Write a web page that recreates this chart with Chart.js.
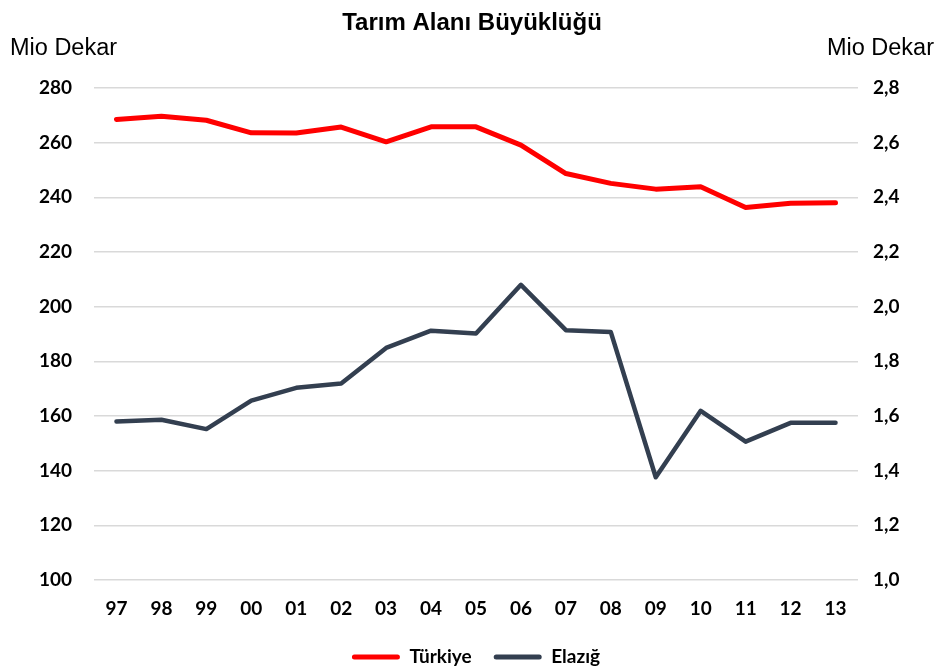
<!DOCTYPE html>
<html>
<head>
<meta charset="utf-8">
<script src="https://cdn.jsdelivr.net/npm/chart.js@4"></script>
<style>
  html, body { margin: 0; padding: 0; background: #fff; }
  #wrap { width: 939px; height: 670px; }
</style>
</head>
<body>
<div id="wrap"><canvas id="chart" width="939" height="670"></canvas></div>
<script>
const years = ['97', '98', '99', '00', '01', '02', '03', '04', '05', '06', '07', '08', '09', '10', '11', '12', '13'];
const turkiye = [268.5, 269.7, 268.2, 263.6, 263.5, 265.7, 260.3, 265.8, 265.8, 259.1, 248.7, 245.1, 243.0, 243.9, 236.3, 237.8, 238.0];
const elazig = [1.580, 1.586, 1.552, 1.656, 1.703, 1.719, 1.849, 1.912, 1.902, 2.080, 1.914, 1.907, 1.376, 1.619, 1.506, 1.575, 1.575];

const chartTitle = 'Tarım Alanı Büyüklüğü';
const axisUnit = 'Mio Dekar';

// title and the two unit labels above the axes
const headerText = {
  id: 'headerText',
  afterDraw(chart) {
    const ctx = chart.ctx;
    ctx.save();
    ctx.fillStyle = '#000';
    ctx.textBaseline = 'alphabetic';
    ctx.font = 'bold 24px "Liberation Sans", Arial, sans-serif';
    ctx.textAlign = 'center';
    ctx.fillText(chartTitle, 472, 30);
    ctx.font = '23.5px "Liberation Sans", Arial, sans-serif';
    ctx.textAlign = 'left';
    ctx.fillText(axisUnit, 10, 55);
    ctx.textAlign = 'right';
    ctx.fillText(axisUnit, 934, 55);
    ctx.restore();
  }
};

const tickFont = { family: 'Lato, "Open Sans", sans-serif', size: 19, weight: 'bold' };

new Chart(document.getElementById('chart'), {
  type: 'line',
  data: {
    labels: years,
    datasets: [{
      label: 'Türkiye',
      data: turkiye,
      yAxisID: 'y',
      borderColor: '#FF0000',
      backgroundColor: '#FF0000',
      borderWidth: 5,
      borderCapStyle: 'round',
      borderJoinStyle: 'round',
      pointRadius: 0,
      tension: 0
    }, {
      label: 'Elazığ',
      data: elazig,
      yAxisID: 'y1',
      borderColor: '#333F50',
      backgroundColor: '#333F50',
      borderWidth: 4.5,
      borderCapStyle: 'round',
      borderJoinStyle: 'round',
      pointRadius: 0,
      tension: 0
    }]
  },
  options: {
    responsive: false,
    animation: false,
    layout: { padding: { top: 88, left: 0, right: 0, bottom: -6.5 } },
    scales: {
      x: {
        offset: true,
        afterFit(scale) { scale.height = 45.5; },
        grid: { display: false, drawTicks: false },
        border: { display: false },
        ticks: { color: '#000', font: tickFont, padding: 17, maxRotation: 0 }
      },
      y: {
        position: 'left',
        min: 100,
        max: 280,
        afterFit(scale) { scale.width = 94; },
        grid: { color: '#D9D9D9', lineWidth: 1.5, drawTicks: false },
        border: { display: false },
        ticks: { stepSize: 20, color: '#000', font: tickFont, padding: 22 }
      },
      y1: {
        position: 'right',
        min: 1.0,
        max: 2.8,
        afterFit(scale) { scale.width = 81; },
        grid: { display: false, drawTicks: false },
        border: { display: false },
        ticks: {
          stepSize: 0.2,
          color: '#000',
          font: tickFont,
          padding: 15,
          callback: v => v.toFixed(1).replace('.', ',')
        }
      }
    },
    plugins: {
      title: { display: false },
      tooltip: { enabled: false },
      legend: {
        position: 'bottom',
        fullSize: false,
        labels: {
          color: '#000',
          font: { family: 'Lato, "Open Sans", sans-serif', size: 19, weight: 'bold' },
          boxWidth: 48,
          boxHeight: 5,
          useBorderRadius: true,
          borderRadius: 2.5,
          padding: 22,
          generateLabels(chart) {
            const items = Chart.defaults.plugins.legend.labels.generateLabels(chart);
            items.forEach(item => { item.lineWidth = 0; });
            return items;
          }
        }
      }
    }
  },
  plugins: [headerText]
});
</script>
</body>
</html>
